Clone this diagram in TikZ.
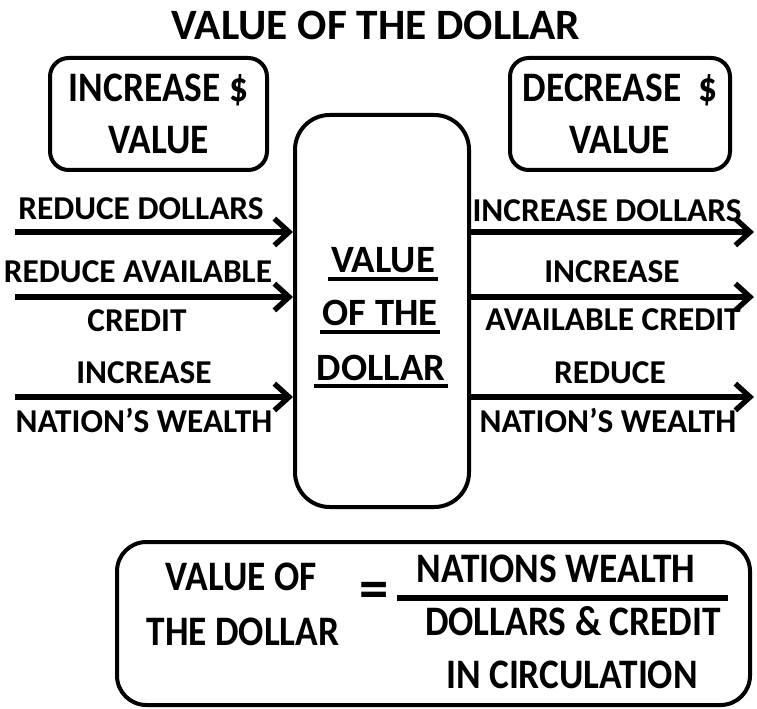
\documentclass[tikz,border=0pt]{standalone}
\usepackage{fontspec}
\usepackage{graphicx}
\setmainfont{Carlito}
\usetikzlibrary{arrows.meta,positioning,calc}
% narrow text as in the formula and the two small boxes
\newcommand{\sq}[1]{\scalebox{0.89}[1]{#1}}

\begin{document}
\begin{tikzpicture}[x=0.75pt,y=-0.75pt,
	big/.style={font=\fontsize{31.5}{39}\selectfont\bfseries},
	lbl/.style={font=\fontsize{25}{31}\selectfont\bfseries,anchor=base,inner sep=0pt},
	mid/.style={font=\fontsize{29}{31}\selectfont\bfseries,anchor=base,inner sep=0pt},
	rbox/.style={draw,line width=3pt,rounded corners=14pt},
	flow/.style={line width=4pt,-{Straight Barb[length=11pt,width=20pt]}},
	uline/.style={line width=2.4pt}]
		\useasboundingbox (0,0) rectangle (757,709);
		% title
		\node[font=\fontsize{32.5}{39}\selectfont\bfseries,anchor=base,inner sep=0pt] (title) at (376,40) {VALUE OF THE DOLLAR};
		% increase / decrease boxes
		\node[rbox,big,align=center,minimum width=162.75pt,minimum height=84pt] (inc) at (158.5,114) {\sq{INCREASE \$}\\\sq{VALUE}};
		\node[rbox,big,align=center,minimum width=165pt,minimum height=84pt] (dec) at (620,114) {\sq{DECREASE\ \ \$}\\\sq{VALUE}};
		% value of the dollar box
		\node[draw,line width=3pt,rounded corners=26pt,minimum width=130.5pt,minimum height=294pt] (value) at (382,311) {};
		\node[mid] (v1) at (383,273) {VALUE};
		\node[mid] (v2) at (380,326) {OF THE};
		\node[mid] (v3) at (381,380) {DOLLAR};
		\foreach \v in {v1,v2,v3}
			\draw[uline] ([yshift=-4.5pt,xshift=-2pt]\v.base west) -- ([yshift=-4.5pt,xshift=2pt]\v.base east);
		% arrows in and out
		\foreach \y/\n in {232/1,297/2,397/3} {
			\coordinate (in\n) at (15,\y);
			\draw[flow] (in\n) -- (in\n -| value.west);
			\coordinate (out\n) at (754,\y);
			\draw[flow] (out\n -| value.east) -- (out\n);
		}
		% left labels
		\node[lbl] (l1) at (141,220) {REDUCE DOLLARS};
		\node[lbl] (l2) at (138,283) {REDUCE AVAILABLE};
		\node[lbl] (l3) at (137,332) {CREDIT};
		\node[lbl] (l4) at (144,383) {INCREASE};
		\node[lbl] (l5) at (144,432) {NATION’S WEALTH};
		% right labels
		\node[lbl] (r1) at (607,222) {INCREASE DOLLARS};
		\node[lbl] (r2) at (612,283) {INCREASE};
		\node[lbl] (r3) at (613,330) {AVAILABLE CREDIT};
		\node[lbl] (r4) at (610,383) {REDUCE};
		\node[lbl] (r5) at (608,432) {NATION’S WEALTH};
		% formula box
		\node[rbox,rounded corners=22pt,minimum width=474.75pt,minimum height=122.25pt] (eqbox) at (433.5,623.5) {};
		\node[big,anchor=base,inner sep=0pt] (lhs1) at (241,590) {\sq{VALUE OF}};
		\node[big,anchor=base,inner sep=0pt] (lhs2) at (243,645) {\sq{THE DOLLAR}};
		\node[font=\fontsize{44}{44}\selectfont\bfseries,inner sep=0pt] (eq) at (374,595) {=};
		\node[big,anchor=base,inner sep=0pt] (num) at (556,582) {\sq{NATIONS WEALTH}};
		\node[big,anchor=base,inner sep=0pt] (den1) at (573,635) {\sq{DOLLARS \& CREDIT}};
		\node[big,anchor=base,inner sep=0pt] (den2) at (572,688) {\sq{IN CIRCULATION}};
		\draw[line width=5pt] (397,598) -- (728,598);
	\end{tikzpicture}
\end{document}
